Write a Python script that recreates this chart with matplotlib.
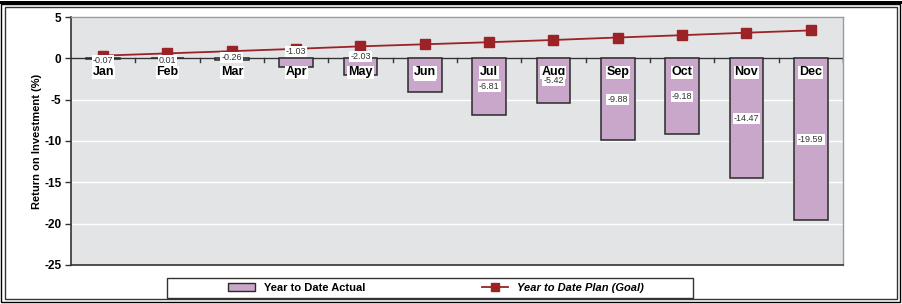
import matplotlib
matplotlib.use("Agg")
import matplotlib.pyplot as plt
from matplotlib.patches import Rectangle, Patch
from matplotlib.lines import Line2D
import numpy as np

months = ["Jan", "Feb", "Mar", "Apr", "May", "Jun", "Jul", "Aug", "Sep", "Oct", "Nov", "Dec"]
actual = [-0.07, 0.01, -0.26, -1.03, -2.03, -4.11, -6.81, -5.42, -9.88, -9.18, -14.47, -19.59]
plan = [0.33, 0.6, 0.87, 1.15, 1.45, 1.7, 1.95, 2.22, 2.52, 2.8, 3.1, 3.38]
yticks = [5, 0, -5, -10, -15, -20, -25]

plt.rcParams['font.family'] = ['Liberation Sans', 'DejaVu Sans']

fig = plt.figure(figsize=(9.03, 3.04), dpi=100)
ax = fig.add_axes([71/903, 1-265/304, (843-71)/903, (265-17)/304])
ax.set_facecolor('#E3E4E6')

x = np.arange(len(months))
ax.bar(x, actual, width=0.52, color='#C9A7CA', edgecolor='#2a2a2a', linewidth=1.1, zorder=3)
ax.plot(x, plan, color='#9B2226', linewidth=1.3, marker='s', markersize=7,
        markerfacecolor='#9B2226', markeredgecolor='#9B2226', zorder=4)

ax.set_xlim(-0.5, len(months) - 0.5)
ax.set_ylim(-25, 5)
ax.set_yticks(yticks)
ax.set_yticklabels([str(t) for t in yticks], fontsize=8.5, fontweight='bold')
ax.yaxis.grid(True, color='white', linewidth=1.0, zorder=0)
ax.set_axisbelow(True)
ax.set_xticks([])
ax.tick_params(axis='y', length=4, width=1, color='#333333', pad=3)

for s in ['left', 'bottom']:
    ax.spines[s].set_color('#333333')
    ax.spines[s].set_linewidth(1.2)
for s in ['top', 'right']:
    ax.spines[s].set_color('#9a9a9a')
    ax.spines[s].set_linewidth(1.0)

# zero axis line with category boundary ticks
ax.axhline(0, color='#333333', linewidth=1.0, zorder=2)
for b in np.arange(0.5, len(months) - 0.5 + 0.01, 1.0):
    ax.plot([b, b], [0, -0.45], color='#333333', linewidth=1.0, zorder=2)

# month labels
for i, m in enumerate(months):
    ax.text(i, -1.7, m, ha='center', va='center', fontsize=9, fontweight='bold',
            bbox=dict(facecolor='white', edgecolor='none', pad=0.6), zorder=7)

# value labels
label_y = [-0.25, -0.25, 0.1, 0.85, 0.25]
for i, v in enumerate(actual):
    y = label_y[i] if i < len(label_y) else v / 2
    if i == 7:
        y = -2.65
    ax.text(i, y, f"{v:.2f}", ha='center', va='center', fontsize=6.5, color='#333333',
            bbox=dict(facecolor='white', edgecolor='none', pad=0.8), zorder=5 if i != 7 else 8)

ax.set_ylabel("Return on Investment (%)", fontsize=8, fontweight='bold')
ax.yaxis.set_label_coords((42 - 71) / 772, 0.5)

# legend frame
fig.patches.append(Rectangle((167/903, 1-298/304), (693-167)/903, 20/304, transform=fig.transFigure,
                             facecolor='white', edgecolor='#333333', linewidth=1.0, zorder=1))
handles = [Patch(facecolor='#C9A7CA', edgecolor='#2a2a2a', linewidth=1.0),
           Line2D([0], [0], color='#9B2226', linewidth=1.3, marker='s', markersize=6,
                  markerfacecolor='#9B2226', markeredgecolor='#9B2226')]
leg = fig.legend(handles, ["Year to Date Actual", "Year to Date Plan (Goal)"],
                 loc='center', bbox_to_anchor=(436/903, 1-288/304), ncol=2,
                 frameon=False, fontsize=8, columnspacing=10.5,
                 handlelength=2.4, handleheight=0.8, handletextpad=0.8)
texts = leg.get_texts()
texts[0].set_fontweight('bold')
texts[1].set_fontweight('bold')
texts[1].set_fontstyle('italic')

# outer frames
fig.patches.append(Rectangle((0, 1-4/304), 1, 3/304, transform=fig.transFigure,
                             facecolor='black', edgecolor='none'))
fig.patches.append(Rectangle((1.5/903, 2/304), 899/903, 298/304, transform=fig.transFigure,
                             facecolor='none', edgecolor='black', linewidth=1.0))
fig.patches.append(Rectangle((5/903, 5/304), 892/903, 292/304, transform=fig.transFigure,
                             facecolor='none', edgecolor='#333333', linewidth=1.0))

fig.savefig("out.png", dpi=100)
